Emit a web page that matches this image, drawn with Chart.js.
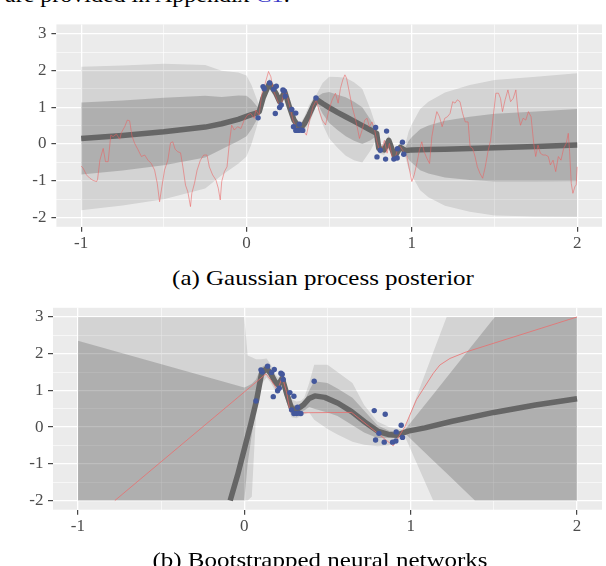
<!DOCTYPE html>
<html>
<head>
<meta charset="utf-8">
<script src="https://cdn.jsdelivr.net/npm/chart.js@4.4.1/dist/chart.umd.min.js"></script>
<style>
  html, body { margin: 0; padding: 0; background: #ffffff; }
  body { width: 606px; height: 566px; position: relative; overflow: hidden; font-family: "Liberation Serif", "DejaVu Serif", serif; }
  canvas { position: absolute; left: 0; }
  .txt { position: absolute; font-size: 21px; line-height: 21px; white-space: nowrap; color: #000; }
</style>
</head>
<body>
<div class="txt" style="left:5px; top:-15px; font-size:20px; line-height:20px; transform:scaleX(1.2); transform-origin:0 0;">are provided in Appendix <span style="color:#3a3ac8">C1</span>.</div>
<canvas id="ca" width="606" height="260" style="top:0px"></canvas>
<div class="txt" id="capA" style="top:268px; left:323px; transform:translateX(-50%) scaleX(1.19);">(a) Gaussian process posterior</div>
<canvas id="cb" width="606" height="260" style="top:290px"></canvas>
<div class="txt" id="capB" style="top:549.5px; left:320px; transform:translateX(-50%) scaleX(1.19);">(b) Bootstrapped neural networks</div>
<script>
// ---------- tick values ----------
const xTickValues = [-1, -0.5, 0, 0.5, 1, 1.5, 2];
const yTickValues = [-2, -1.5, -1, -0.5, 0, 0.5, 1, 1.5, 2, 2.5, 3];

// ---------- observed data points (shared by both panels) ----------
const obsX = [0.070, 0.100, 0.107, 0.140, 0.164, 0.180, 0.174, 0.200, 0.210, 0.220, 0.228, 0.234, 0.274, 0.298, 0.284, 0.298, 0.314, 0.328, 0.340, 0.320, 0.420, 0.781, 0.847, 0.789, 0.809, 0.841, 0.891, 0.911, 0.913, 0.943, 0.951];
const obsY = [0.71, 1.56, 1.50, 1.66, 1.49, 1.57, 0.83, 0.99, 1.06, 1.47, 1.44, 1.30, 0.94, 0.84, 0.47, 0.37, 0.37, 0.38, 0.37, 0.54, 1.25, 0.45, 0.35, -0.35, -0.17, -0.41, -0.41, -0.38, -0.13, 0.05, -0.28];

// ---------- panel (a): Gaussian process posterior ----------
const gpX = [-1, -0.75, -0.5, -0.25, -0.15, -0.05, 0, 0.03, 0.06, 0.077, 0.1, 0.138, 0.177, 0.2, 0.231, 0.26, 0.287, 0.31, 0.327, 0.35, 0.378, 0.405, 0.424, 0.46, 0.5, 0.55, 0.6, 0.65, 0.7, 0.75, 0.787, 0.8, 0.833, 0.86, 0.896, 0.93, 0.96, 0.98, 1.0, 1.05, 1.1, 1.2, 1.35, 1.5, 1.75, 2.0];
const gpMean = [0.15, 0.23, 0.33, 0.46, 0.55, 0.67, 0.75, 0.80, 0.84, 0.88, 1.25, 1.65, 1.38, 1.15, 1.42, 1.00, 0.65, 0.50, 0.43, 0.55, 0.79, 1.05, 1.21, 1.10, 0.99, 0.86, 0.74, 0.62, 0.50, 0.38, 0.29, -0.12, -0.16, 0.10, -0.34, -0.09, -0.18, -0.17, -0.16, -0.155, -0.15, -0.14, -0.12, -0.10, -0.07, -0.03];
const gpOuterLo = [-1.80, -1.67, -1.50, -1.21, -0.85, -0.54, -0.34, 0.00, 0.44, 0.72, 1.11, 1.51, 1.22, 0.99, 1.28, 0.84, 0.51, 0.36, 0.29, 0.35, 0.53, 0.85, 1.07, 0.54, 0.15, -0.10, -0.32, -0.44, -0.50, -0.18, 0.15, -0.26, -0.30, -0.04, -0.48, -0.23, -0.34, -0.67, -0.86, -1.26, -1.45, -1.68, -1.84, -1.94, -1.97, -1.98];
const gpInnerLo = [-0.83, -0.72, -0.58, -0.37, -0.14, 0.08, 0.21, 0.40, 0.64, 0.80, 1.18, 1.58, 1.30, 1.07, 1.35, 0.92, 0.58, 0.43, 0.36, 0.45, 0.66, 0.95, 1.14, 0.82, 0.57, 0.38, 0.21, 0.09, 0.00, 0.10, 0.22, -0.19, -0.23, 0.03, -0.41, -0.16, -0.26, -0.42, -0.51, -0.71, -0.80, -0.91, -0.98, -1.02, -1.02, -1.01];
const gpInnerHi = [1.13, 1.18, 1.26, 1.31, 1.28, 1.32, 1.31, 1.20, 1.04, 0.96, 1.32, 1.72, 1.46, 1.23, 1.49, 1.08, 0.72, 0.57, 0.50, 0.65, 0.92, 1.15, 1.28, 1.38, 1.41, 1.34, 1.27, 1.15, 1.00, 0.66, 0.36, -0.05, -0.09, 0.17, -0.27, -0.02, -0.10, 0.08, 0.19, 0.40, 0.50, 0.63, 0.74, 0.82, 0.88, 0.95];
const gpOuterHi = [2.10, 2.13, 2.18, 2.15, 1.99, 1.94, 1.86, 1.60, 1.24, 1.04, 1.39, 1.79, 1.54, 1.31, 1.56, 1.16, 0.79, 0.64, 0.57, 0.75, 1.05, 1.25, 1.35, 1.66, 1.83, 1.82, 1.80, 1.68, 1.50, 0.94, 0.43, 0.02, -0.02, 0.24, -0.20, 0.05, -0.02, 0.33, 0.54, 0.95, 1.15, 1.40, 1.60, 1.74, 1.83, 1.92];

// posterior sample (red)
const gpSampleX = [-1.0, -0.988, -0.968, -0.948, -0.928, -0.907, -0.901, -0.887, -0.867, -0.853, -0.837, -0.821, -0.807, -0.787, -0.767, -0.757, -0.737, -0.721, -0.707, -0.693, -0.677, -0.656, -0.636, -0.616, -0.596, -0.576, -0.556, -0.540, -0.526, -0.512, -0.496, -0.476, -0.460, -0.446, -0.432, -0.416, -0.399, -0.385, -0.369, -0.355, -0.339, -0.331, -0.315, -0.299, -0.279, -0.259, -0.239, -0.225, -0.205, -0.185, -0.171, -0.159, -0.150, -0.134, -0.118, -0.104, -0.090, -0.074, -0.054, -0.034, -0.014, 0.006, 0.026, 0.046,
  0.056, 0.076, 0.093, 0.113, 0.133, 0.147, 0.161, 0.177, 0.193, 0.209, 0.223, 0.237, 0.251, 0.267, 0.281, 0.301, 0.321, 0.342, 0.362, 0.382, 0.402, 0.422, 0.438, 0.458, 0.478, 0.498, 0.518, 0.538, 0.554, 0.568, 0.582, 0.595, 0.605, 0.619, 0.639, 0.655, 0.669, 0.683, 0.699, 0.715, 0.729, 0.743, 0.759, 0.775, 0.789, 0.803, 0.819, 0.834, 0.850, 0.864, 0.880, 0.896, 0.912, 0.930, 0.950,
  0.970, 0.986, 1.000, 1.014, 1.030, 1.046, 1.060, 1.074, 1.091, 1.107, 1.121, 1.135, 1.151, 1.167, 1.183, 1.199, 1.215, 1.231, 1.247, 1.261, 1.275, 1.291, 1.307, 1.323, 1.340, 1.352, 1.368, 1.382, 1.396, 1.412, 1.428, 1.444, 1.460, 1.476, 1.492, 1.508, 1.524, 1.536, 1.548, 1.564, 1.581, 1.597, 1.613, 1.629, 1.643, 1.657, 1.673, 1.689, 1.705, 1.721, 1.737, 1.749, 1.763, 1.777, 1.793, 1.809, 1.825, 1.838, 1.854, 1.870, 1.886, 1.902, 1.918, 1.934, 1.946, 1.954, 1.964, 1.974, 1.986, 1.994, 2.0];
const gpSampleY = [-0.60, -0.66, -0.84, -0.93, -0.99, -1.02, -0.96, -0.44, -0.12, -0.48, -0.48, 0.24, 0.20, 0.27, 0.13, 0.31, 0.47, 0.65, 0.63, 0.22, 0.02, -0.16, -0.34, -0.30, -0.44, -0.53, -0.71, -1.07, -1.57, -1.16, -0.71, -0.44, 0.03, 0.06, -0.14, -0.21, -0.24, -0.62, -1.12, -1.30, -1.70, -1.34, -1.07, -0.71, -0.44, -0.30, -0.30, -0.62, -0.84, -0.98, -1.20, -1.52, -1.02, -0.75, -0.62, 0.02, 0.51, 0.38, 0.47, 0.42, 0.65, 0.79, 0.83, 0.70,
  0.92, 0.79, 1.38, 1.65, 1.97, 1.83, 1.47, 1.29, 1.11, 1.01, 1.38, 1.42, 1.20, 0.92, 0.65, 0.42, 0.34, 0.38, 0.24, 0.65, 1.01, 1.20, 0.92, 0.65, 0.52, 0.92, 1.20, 1.38, 1.11, 1.51, 1.74, 1.88, 1.79, 1.47, 1.01, 0.74, 0.47, 0.15, 0.38, 0.65, 0.70, 0.47, 0.60, 0.38, 0.06, -0.16, -0.12, 0.10, -0.25, 0.02, -0.34, -0.44, -0.16, -0.07, -0.21,
  -0.34, -0.71, -1.02, -0.84, -0.53, -0.16, 0.06, -0.21, -0.39, -0.53, 0.20, 0.56, 0.88, 0.74, 0.47, 0.70, 0.74, 0.83, 1.15, 1.11, 1.20, 1.15, 0.83, 0.60, 0.60, -0.07, -0.12, -0.34, -0.62, -0.80, -0.93, -0.62, -0.21, 0.10, 0.74, 1.38, 1.38, 1.24, 0.88, 1.20, 1.47, 1.15, 1.24, 1.47, 0.83, 0.51, 0.70, 0.65, 0.88, 0.74, 0.02, -0.34, -0.03, -0.25, -0.30, -0.30, -0.34, -0.57, -0.44, -0.75, -0.34, -0.44, -0.12, 0.02, 0.29, -0.21, -1.07, -1.34, -1.16, -1.11, -0.62];

// ---------- panel (b): bootstrapped neural networks ----------
const nnMeanX = [-0.085, -0.04, 0.0, 0.04, 0.074, 0.104, 0.134, 0.16, 0.184, 0.204, 0.228, 0.254, 0.284, 0.314, 0.354, 0.39, 0.424, 0.484, 0.564, 0.645, 0.724, 0.805, 0.865, 0.915, 0.985, 1.085, 1.25, 1.5, 1.75, 2.0];
const nnMeanY = [-2.0, -1.3, -0.6, 0.1, 0.74, 1.47, 1.60, 1.45, 1.24, 1.15, 1.33, 0.92, 0.51, 0.47, 0.60, 0.78, 0.85, 0.81, 0.65, 0.42, 0.14, -0.12, -0.20, -0.22, -0.11, -0.02, 0.16, 0.40, 0.60, 0.77];
const nnBandX = [-1, 0.0, 0.02, 0.045, 0.07, 0.1, 0.134, 0.16, 0.184, 0.204, 0.228, 0.254, 0.284, 0.314, 0.34, 0.36, 0.39, 0.42, 0.5, 0.56, 0.65, 0.72, 0.8, 0.87, 0.93, 0.96, 1.135, 1.216, 1.386, 1.506, 2.0];
const nnOuterHi = [3, 3, 1.95, 1.9, 1.85, 1.85, 1.87, 1.7, 1.45, 1.35, 1.55, 1.15, 0.75, 0.7, 0.72, 0.8, 1.2, 1.7, 1.7, 1.5, 1.2, 0.6, 0.15, 0.0, -0.05, -0.08, 2.03, 3, 3, 3, 3];
const nnInnerHi = [2.35, 1.08, 1.12, 1.18, 1.3, 1.62, 1.72, 1.57, 1.35, 1.26, 1.44, 1.04, 0.63, 0.58, 0.62, 0.7, 1.0, 1.25, 1.2, 1.05, 0.8, 0.45, 0.05, -0.1, -0.12, -0.1, 0.89, 1.35, 2.32, 3, 3];
const nnInnerLo = [-2, -2, -1.0, -0.2, 0.5, 1.32, 1.48, 1.33, 1.13, 1.04, 1.22, 0.8, 0.39, 0.36, 0.42, 0.45, 0.55, 0.5, 0.4, 0.3, 0.05, -0.15, -0.3, -0.3, -0.28, -0.15, -0.91, -1.26, -2, -2, -2];
const nnOuterLo = [-2, -2, -2, -1.9, 0.3, 1.15, 1.35, 1.2, 1.0, 0.92, 1.1, 0.68, 0.27, 0.24, 0.3, 0.35, 0.4, 0.2, -0.05, -0.2, -0.4, -0.48, -0.52, -0.5, -0.35, -0.2, -2, -2, -2, -2, -2];
const nnNetX = [-0.778, 0.13, 0.165, 0.2, 0.228, 0.254, 0.275, 0.3, 0.645, 0.895, 0.965, 1.035, 1.135, 1.175, 1.236, 1.335, 2.0];
const nnNetY = [-2, 1.45, 1.25, 1.0, 1.37, 0.95, 0.42, 0.39, 0.40, -0.51, 0.01, 0.75, 1.46, 1.69, 1.87, 2.05, 3.0];

// ---------- helpers ----------
const pts = (xs, ys) => xs.map((x, i) => ({ x: x, y: ys[i] }));
Chart.defaults.font.family = '"Liberation Serif", "DejaVu Serif", serif';

const bgPlugin = {
  id: 'panelBg',
  beforeDraw(chart) {
    const a = chart.chartArea, c = chart.ctx;
    c.save();
    c.fillStyle = '#EBEBEB';
    c.fillRect(a.left, a.top, a.right - a.left, a.bottom - a.top);
    c.restore();
  }
};

function makeChart(id, geom, d) {
  const outerFill = 'rgba(0,0,0,0.10)';
  const innerFill = 'rgba(0,0,0,0.17)';
  const band = (data, fill, color, order) => ({
    data: data, fill: fill, backgroundColor: color, borderWidth: 0, pointRadius: 0, order: order, tension: 0
  });
  return new Chart(document.getElementById(id), {
    type: 'line',
    data: {
      datasets: [
        { data: pts(obsX, obsY), showLine: false, pointRadius: 2.7, pointBackgroundColor: '#44589c', pointBorderWidth: 0, order: 0 },
        { data: d.red, borderColor: d.redColor, borderWidth: 1, pointRadius: 0, fill: false, order: 1, tension: 0 },
        { data: d.mean, borderColor: '#666666', borderWidth: 5.5, pointRadius: 0, fill: false, order: 2, tension: 0, borderJoinStyle: 'round' },
        band(d.innerHi, '+1', innerFill, 3),
        band(d.innerLo, false, 'transparent', 4),
        band(d.outerHi, '+1', outerFill, 5),
        band(d.outerLo, false, 'transparent', 6)
      ]
    },
    options: {
      responsive: false,
      animation: false,
      devicePixelRatio: 1,
      layout: { padding: { top: geom.top, right: geom.right, left: 0, bottom: 0 } },
      plugins: { legend: { display: false }, tooltip: { enabled: false } },
      scales: {
        x: {
          type: 'linear', min: -1.15, max: 2.15,
          afterFit(s) { s.height = geom.xh; },
          afterBuildTicks(s) { s.ticks = xTickValues.map(v => ({ value: v })); },
          border: { display: false },
          grid: {
            color: '#FFFFFF',
            lineWidth: c => Number.isInteger(c.tick.value) ? 1.3 : 0.6,
            tickColor: c => Number.isInteger(c.tick.value) ? '#333333' : 'rgba(0,0,0,0)',
            tickLength: 5, tickWidth: 1.1
          },
          ticks: {
            autoSkip: false, maxRotation: 0, padding: geom.xpad,
            color: '#4D4D4D', font: { size: 17 },
            callback: v => Number.isInteger(v) ? String(v) : ''
          }
        },
        y: {
          type: 'linear', min: -2.25, max: 3.25,
          afterFit(s) { s.width = geom.yw; },
          afterBuildTicks(s) { s.ticks = yTickValues.map(v => ({ value: v })); },
          border: { display: false },
          grid: {
            color: '#FFFFFF',
            lineWidth: c => Number.isInteger(c.tick.value) ? 1.3 : 0.6,
            tickColor: c => Number.isInteger(c.tick.value) ? '#333333' : 'rgba(0,0,0,0)',
            tickLength: 5, tickWidth: 1.1
          },
          ticks: {
            autoSkip: false, padding: geom.ypad,
            color: '#4D4D4D', font: { size: 17 },
            callback: v => Number.isInteger(v) ? String(v) : ''
          }
        }
      }
    },
    plugins: [bgPlugin]
  });
}

makeChart('ca', { top: 24.4, right: 1.8, xh: 33.2, yw: 56.4, xpad: 1.5, ypad: 5 }, {
  red: pts(gpSampleX, gpSampleY), redColor: 'rgba(235,95,95,0.55)',
  mean: pts(gpX, gpMean),
  innerHi: pts(gpX, gpInnerHi), innerLo: pts(gpX, gpInnerLo),
  outerHi: pts(gpX, gpOuterHi), outerLo: pts(gpX, gpOuterLo)
});

makeChart('cb', { top: 17.8, right: 3.8, xh: 40.3, yw: 53, xpad: 1.5, ypad: 4.5 }, {
  red: pts(nnNetX, nnNetY), redColor: 'rgba(238,105,105,0.75)',
  mean: pts(nnMeanX, nnMeanY),
  innerHi: pts(nnBandX, nnInnerHi), innerLo: pts(nnBandX, nnInnerLo),
  outerHi: pts(nnBandX, nnOuterHi), outerLo: pts(nnBandX, nnOuterLo)
});
</script>
</body>
</html>
